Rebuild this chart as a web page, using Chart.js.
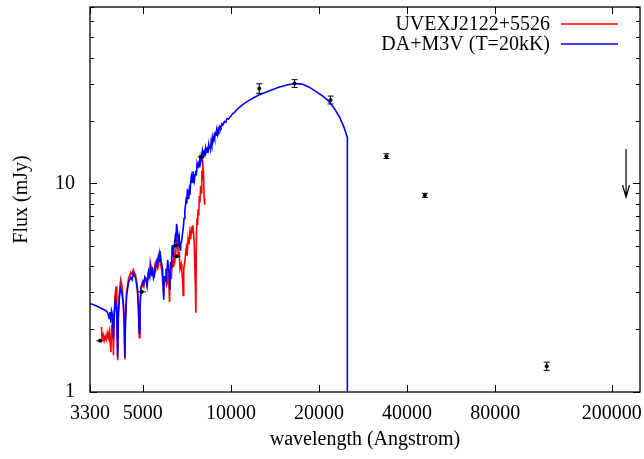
<!DOCTYPE html>
<html>
<head>
<meta charset="utf-8">
<title>UVEXJ2122+5526 SED</title>
<script src="https://cdn.jsdelivr.net/npm/chart.js@4.4.1/dist/chart.umd.min.js"></script>
<style>
  html, body { margin: 0; padding: 0; background: #fff; }
  #wrap { width: 644px; height: 459px; }
</style>
</head>
<body>
<div id="wrap"><canvas id="sed" width="644" height="459"></canvas></div>
<script>
"use strict";

// Observed spectrum (wavelength in Angstrom, flux in mJy)
const obsLambda = [3610, 3630, 3660, 3690, 3720, 3750, 3780, 3810, 3840, 3870, 3890, 3910, 3940, 3970, 3990,
  4020, 4050, 4075, 4102, 4125, 4160, 4200, 4240, 4290, 4320, 4340, 4360, 4400, 4470, 4550, 4600, 4640,
  4690, 4720, 4790, 4830, 4861, 4890, 4930, 5000, 5040, 5080, 5130, 5170, 5230, 5270, 5300, 5340, 5380,
  5420, 5460, 5500, 5540, 5580, 5620, 5660, 5700, 5760, 5830, 5893, 5930, 5990, 6030, 6060, 6100, 6130,
  6170, 6200, 6230, 6260, 6310, 6350, 6380, 6440, 6500, 6560, 6620, 6660, 6700, 6760, 6800, 6840, 6870,
  6900, 6960, 7000, 7040, 7090, 7140, 7190, 7240, 7290, 7335, 7380, 7420, 7460, 7500, 7560, 7590, 7620,
  7660, 7700, 7720, 7760, 7800, 7840, 7880, 7920, 7950, 7980, 8010, 8040, 8060, 8100, 8140];
const obsFlux = [2.05, 1.80, 1.88, 1.76, 1.85, 1.78, 1.92, 1.82, 1.95, 1.70, 1.55, 2.05, 2.15, 1.50, 2.30,
  2.90, 3.20, 2.60, 1.42, 2.40, 3.00, 3.45, 3.25, 2.70, 2.20, 1.43, 2.20, 3.00, 3.50, 3.75, 3.65, 3.85,
  3.70, 3.65, 3.20, 2.60, 1.82, 2.50, 3.10, 3.30, 3.20, 3.55, 3.50, 3.30, 3.80, 3.65, 4.15, 3.85, 3.90,
  3.60, 3.75, 4.05, 3.90, 4.30, 4.35, 4.10, 4.60, 4.10, 3.60, 2.90, 3.50, 3.55, 3.25, 3.30, 3.60, 3.40,
  2.70, 3.70, 3.50, 3.50, 4.30, 4.00, 4.70, 4.30, 4.90, 5.40, 4.40, 4.70, 3.90, 4.10, 3.80, 3.40, 2.90,
  3.90, 4.20, 4.60, 4.90, 4.50, 5.40, 5.10, 5.80, 5.40, 6.20, 5.80, 6.30, 5.70, 5.00, 3.20, 2.40, 5.50,
  6.80, 6.30, 7.50, 7.00, 8.70, 8.10, 9.70, 9.00, 11.5, 10.4, 13.0, 11.2, 11.5, 8.50, 7.90];

// DA+M3V model (T=20kK)
const modelLambda = [3300, 3400, 3500, 3600, 3700, 3770, 3800, 3835, 3860, 3889, 3910, 3940, 3970, 3995,
  4030, 4060, 4080, 4102, 4125, 4160, 4200, 4240, 4290, 4320, 4340, 4360, 4400, 4470, 4550, 4600, 4640,
  4680, 4720, 4790, 4830, 4861, 4890, 4930, 5000, 5040, 5080, 5130, 5170, 5230, 5280, 5320, 5360, 5400,
  5440, 5480, 5520, 5560, 5600, 5650, 5690, 5720, 5780, 5840, 5893, 5930, 5970, 6000, 6040, 6080, 6120,
  6150, 6190, 6220, 6260, 6300, 6340, 6380, 6420, 6450, 6490, 6520, 6570, 6620, 6660, 6700, 6740, 6790,
  6840, 6880, 6920, 6960, 7000, 7040, 7070, 7100, 7140, 7170, 7210, 7240, 7290, 7330, 7380, 7420, 7460,
  7500, 7540, 7580, 7620, 7660, 7700, 7750, 7790, 7830, 7880, 7920, 7960, 8000, 8050, 8100, 8150, 8200,
  8250, 8300, 8350, 8400, 8440, 8480, 8520, 8560, 8600, 8640, 8680, 8720, 8760, 8800, 8850, 8900, 8950,
  9000, 9050, 9100, 9180, 9250, 9320, 9400, 9500, 9600, 9700, 9800, 10000, 10150, 10300, 10450, 10600,
  10800, 11000, 11500, 12000, 12500, 13500, 14500, 15500, 16500, 17500, 18500, 19500, 20500, 21500,
  22500, 23500, 24300, 25000, 25000];
const modelFlux = [2.65, 2.62, 2.57, 2.52, 2.47, 2.43, 2.38, 2.25, 2.42, 2.15, 2.45, 2.35, 1.80, 2.40,
  2.75, 2.55, 2.10, 1.47, 2.30, 2.85, 3.15, 3.00, 2.60, 2.10, 1.46, 2.10, 2.90, 3.35, 3.55, 3.45, 3.70,
  3.60, 3.55, 3.10, 2.50, 1.92, 2.60, 3.20, 3.40, 3.30, 3.55, 3.45, 3.20, 3.75, 3.55, 4.00, 3.70, 3.85,
  3.50, 3.60, 3.95, 4.20, 4.00, 4.45, 4.25, 4.75, 4.20, 3.90, 2.77, 3.60, 3.40, 3.90, 3.70, 4.30, 3.90,
  3.70, 3.10, 4.20, 3.90, 5.00, 4.50, 4.80, 5.20, 5.50, 5.20, 6.40, 5.90, 5.20, 5.50, 4.80, 5.10, 5.30,
  5.80, 6.20, 6.80, 7.40, 7.90, 8.60, 8.00, 9.40, 8.90, 8.40, 9.20, 8.80, 10.2, 10.8, 10.1, 11.4, 10.8,
  10.3, 11.0, 11.5, 10.9, 12.3, 11.8, 12.4, 12.0, 13.1, 12.7, 13.6, 13.2, 14.3, 13.6, 14.1, 13.5, 14.8,
  14.2, 14.6, 14.0, 15.3, 14.7, 15.1, 14.6, 15.8, 15.3, 16.5, 15.8, 16.2, 16.9, 16.4, 17.4, 17.0, 17.8,
  17.2, 18.3, 17.9, 18.8, 18.5, 19.3, 19.1, 19.8, 19.6, 20.4, 20.3, 21.0, 21.6, 21.9, 22.5, 22.9,
  23.4, 23.9, 24.9, 25.8, 26.6, 27.7, 28.8, 29.6, 30.1, 29.9, 28.9, 27.6, 26.3, 24.9,
  23.0, 20.8, 18.7, 16.6, 0.5];

// Photometry with error bars
const photLambda = [3570, 4960, 6470, 6520, 7950, 12500, 16500, 21900, 34000, 46000, 120000];
const photFlux = [1.76, 3.02, 5.03, 4.47, 13.4, 28.5, 30.1, 25.1, 13.5, 8.76, 1.33];
const photXErr = [100, 160, 200, 200, 250, 0, 0, 0, 0, 0, 0];
const photYErr = [0, 0, 0, 0, 0, 1.5, 1.3, 1.1, 0.35, 0.2, 0.06];

// Upper limit (arrow)
const limLambda = [224000];
const limFrom = [14.6];
const limTo = [8.6];

// Axes
const xTicks = [3300, 5000, 10000, 20000, 40000, 80000, 200000];
const yTicks = [1, 10];
const yMinorTicks = [2, 3, 4, 5, 6, 7, 8, 9, 20, 30, 40, 50, 60, 70];

const seriesNames = ["UVEXJ2122+5526", "DA+M3V (T=20kK)"];
const seriesColors = ["#ff0000", "#0000ff"];

const FONT = "'Liberation Serif', 'DejaVu Serif', serif";
const FONT_SIZE = 20;

const toPoints = (xs, ys) => xs.map((v, i) => ({ x: v, y: ys[i] }));

// Frame, ticks, error bars, legend and axis titles
const decorations = {
  id: "decorations",
  afterDatasetsDraw(chart) {
    const { ctx, chartArea: a, scales: { x, y } } = chart;
    ctx.save();
    ctx.strokeStyle = "#000";
    ctx.fillStyle = "#000";
    ctx.lineWidth = 1;

    // error bars
    ctx.beginPath();
    photLambda.forEach((l, i) => {
      const px = x.getPixelForValue(l);
      const py = y.getPixelForValue(photFlux[i]);
      if (photYErr[i] > 0) {
        const top = y.getPixelForValue(photFlux[i] + photYErr[i]);
        const bot = y.getPixelForValue(photFlux[i] - photYErr[i]);
        ctx.moveTo(px, top); ctx.lineTo(px, bot);
        ctx.moveTo(px - 3, top); ctx.lineTo(px + 3, top);
        ctx.moveTo(px - 3, bot); ctx.lineTo(px + 3, bot);
      }
      if (photXErr[i] > 0) {
        const l0 = x.getPixelForValue(l - photXErr[i]);
        const l1 = x.getPixelForValue(l + photXErr[i]);
        ctx.moveTo(l0, py); ctx.lineTo(l1, py);
      }
    });
    ctx.stroke();

    // upper limit arrows
    ctx.lineWidth = 1.2;
    limLambda.forEach((l, i) => {
      const px = x.getPixelForValue(l);
      const y0 = y.getPixelForValue(limFrom[i]);
      const y1 = y.getPixelForValue(limTo[i]);
      ctx.beginPath();
      ctx.moveTo(px, y0); ctx.lineTo(px, y1);
      ctx.moveTo(px - 3.5, y1 - 12); ctx.lineTo(px, y1); ctx.lineTo(px + 3.5, y1 - 12);
      ctx.stroke();
    });

    // ticks (inward, mirrored)
    ctx.lineWidth = 1;
    ctx.beginPath();
    xTicks.forEach(v => {
      const px = Math.round(x.getPixelForValue(v)) + 0.5;
      ctx.moveTo(px, a.bottom); ctx.lineTo(px, a.bottom - 7);
      ctx.moveTo(px, a.top); ctx.lineTo(px, a.top + 7);
    });
    yTicks.forEach(v => {
      const py = Math.round(y.getPixelForValue(v)) + 0.5;
      ctx.moveTo(a.left, py); ctx.lineTo(a.left + 7, py);
      ctx.moveTo(a.right, py); ctx.lineTo(a.right - 7, py);
    });
    yMinorTicks.forEach(v => {
      const py = Math.round(y.getPixelForValue(v)) + 0.5;
      ctx.moveTo(a.left, py); ctx.lineTo(a.left + 4, py);
      ctx.moveTo(a.right, py); ctx.lineTo(a.right - 4, py);
    });
    ctx.stroke();

    // frame
    ctx.lineWidth = 1.3;
    ctx.strokeRect(a.left, a.top, a.right - a.left, a.bottom - a.top);

    // legend
    ctx.font = `${FONT_SIZE}px ${FONT}`;
    ctx.textAlign = "right";
    ctx.textBaseline = "middle";
    seriesNames.forEach((name, i) => {
      const ly = 24 + i * 20;
      ctx.fillStyle = "#000";
      ctx.fillText(name, 550, ly + 1);
      ctx.strokeStyle = seriesColors[i];
      ctx.lineWidth = 1.5;
      ctx.beginPath();
      ctx.moveTo(561, ly); ctx.lineTo(618, ly);
      ctx.stroke();
    });

    // axis titles
    ctx.fillStyle = "#000";
    ctx.textAlign = "center";
    ctx.fillText("wavelength (Angstrom)", (a.left + a.right) / 2, 440);
    ctx.translate(22, (a.top + a.bottom) / 2);
    ctx.rotate(-Math.PI / 2);
    ctx.fillText("Flux (mJy)", 0, 0);

    ctx.restore();
  }
};

Chart.defaults.font.family = FONT;
Chart.defaults.font.size = FONT_SIZE;
Chart.defaults.color = "#000";

new Chart(document.getElementById("sed"), {
  type: "line",
  data: {
    datasets: [
      {
        type: "scatter",
        label: "photometry",
        data: toPoints(photLambda, photFlux),
        pointRadius: 2,
        pointBorderWidth: 0,
        backgroundColor: "#000",
        borderColor: "#000",
        order: 0
      },
      {
        label: seriesNames[1],
        data: toPoints(modelLambda, modelFlux),
        borderColor: seriesColors[1],
        borderWidth: 1.6,
        pointRadius: 0,
        tension: 0,
        fill: false,
        order: 1
      },
      {
        label: seriesNames[0],
        data: toPoints(obsLambda, obsFlux),
        borderColor: seriesColors[0],
        borderWidth: 1.6,
        pointRadius: 0,
        tension: 0,
        fill: false,
        order: 2
      }
    ]
  },
  options: {
    responsive: false,
    animation: false,
    devicePixelRatio: 1,
    layout: { padding: { top: 7, right: 3, left: 0, bottom: 0 } },
    plugins: { legend: { display: false }, tooltip: { enabled: false } },
    scales: {
      x: {
        type: "logarithmic",
        min: 3300,
        max: 250000,
        grid: { display: false, drawTicks: false },
        border: { display: false },
        afterBuildTicks: (scale) => { scale.ticks = xTicks.map(v => ({ value: v })); },
        afterFit: (scale) => { scale.height = 67; scale.paddingLeft = 0; scale.paddingRight = 0; },
        ticks: {
          autoSkip: false,
          maxRotation: 0,
          padding: 10,
          callback: (v) => String(v)
        }
      },
      y: {
        type: "logarithmic",
        min: 1,
        max: 70,
        grid: { display: false, drawTicks: false },
        border: { display: false },
        afterBuildTicks: (scale) => { scale.ticks = yTicks.map(v => ({ value: v })); },
        afterFit: (scale) => { scale.width = 90; scale.paddingTop = 0; scale.paddingBottom = 0; },
        ticks: {
          autoSkip: false,
          padding: 15,
          callback: (v) => String(v)
        }
      }
    }
  },
  plugins: [decorations]
});
</script>
</body>
</html>
